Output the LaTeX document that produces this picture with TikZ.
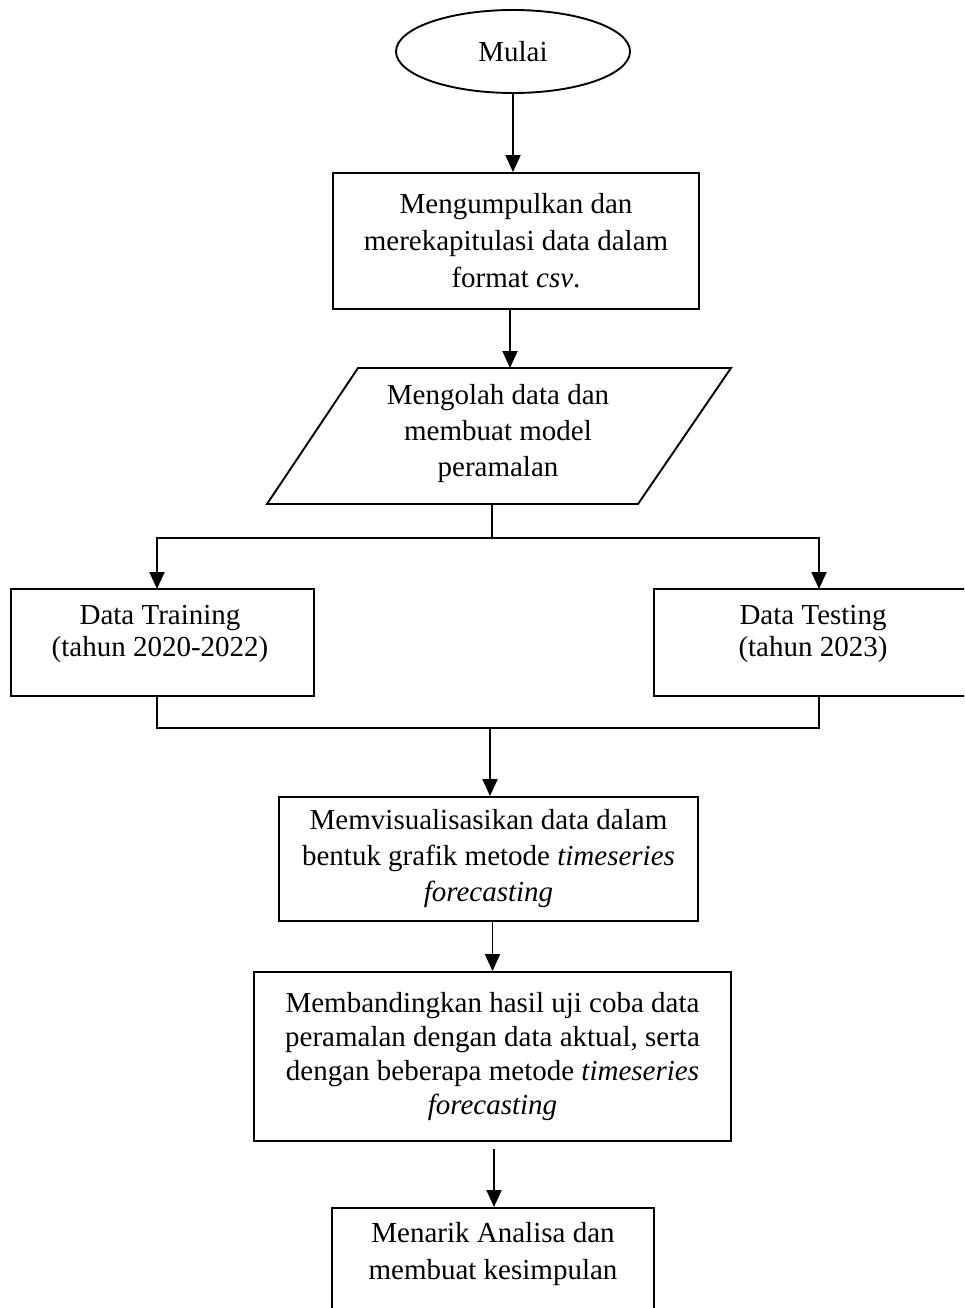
\documentclass[tikz,border=0pt]{standalone}
\usepackage{fontspec}
\setmainfont{Liberation Serif}
\usetikzlibrary{arrows.meta,shapes.geometric}
\begin{document}
\begin{tikzpicture}[x=1pt,y=-1pt,
  line width=1.9pt,
  txt/.style={align=center, inner sep=0pt, font=\fontsize{29}{37}\selectfont},
  box/.style={draw, rectangle, txt},
  arr/.style={-{Triangle[width=15pt,length=17pt]}},
]
\useasboundingbox (0,0) rectangle (964,1308);
\clip (0,0) rectangle (964,1308);

% start
\node[draw, ellipse, txt, minimum width=234pt, minimum height=83pt] (start) at (513,51.5) {Mulai};

% box 1
\node[box, minimum width=366pt, minimum height=136pt] (b1) at (516,241)
  {Mengumpulkan dan\\merekapitulasi data dalam\\format \textit{csv}.};

% parallelogram
\coordinate (pTL) at (358,368);
\coordinate (pTR) at (731,368);
\coordinate (pBR) at (638,504);
\coordinate (pBL) at (267,504);
\draw[line join=miter] (pBL) -- (pTL) -- (pTR) -- (pBR) -- cycle;
\node[txt, font=\fontsize{29}{36}\selectfont] (p) at (498,434) {Mengolah data dan\\membuat model\\peramalan};
\coordinate (pIn) at (510,368);
\coordinate (pOut) at (492,504);
\coordinate (split) at (492,538);

% training / testing
\node[draw, rectangle, minimum width=303pt, minimum height=107pt, inner sep=0pt] (train) at (162.5,642.5) {};
\node[txt, font=\fontsize{29}{32}\selectfont] (trainT) at (160,634) {Data Training\\(tahun 2020-2022)};
\node[draw, rectangle, minimum width=318pt, minimum height=107pt, inner sep=0pt] (test) at (813,642.5) {};
\node[txt, font=\fontsize{29}{32}\selectfont] (testT) at (813,634) {Data Testing\\(tahun 2023)};
\coordinate (tIn) at (157,589);
\coordinate (sIn) at (819,589);
\coordinate (tOut) at (157,696);
\coordinate (sOut) at (819,696);
\coordinate (join) at (490,728);

% visualisation
\node[box, font=\fontsize{29}{36}\selectfont, minimum width=419pt, minimum height=124pt] (m) at (488.5,859)
  {Memvisualisasikan data dalam\\bentuk grafik metode \textit{timeseries}\\\textit{forecasting}};

% compare
\node[box, font=\fontsize{29}{34}\selectfont, minimum width=477pt, minimum height=169pt] (b5) at (492.5,1056.5)
  {Membandingkan hasil uji coba data\\peramalan dengan data aktual, serta\\dengan beberapa metode \textit{timeseries}\\\textit{forecasting}};
\coordinate (gap) at (494,1149);

% conclusion
\node[draw, rectangle, minimum width=322pt, minimum height=150pt, inner sep=0pt, anchor=north] (b6) at (493,1207) {};
\node[txt] (b6T) at (493,1254) {Menarik Analisa dan\\membuat kesimpulan};

% connectors
\draw[arr] (start.south) -- (start.south |- b1.north);
\draw[arr] (b1.south -| pIn) -- (pIn);
\draw (pOut) -- (split);
\draw[arr] (split) -| (tIn);
\draw[arr] (split) -| (sIn);
\draw (tOut) |- (join);
\draw (sOut) |- (join);
\draw[arr] (join) -- (join |- m.north);
\draw[arr] (b5.north |- m.south) -- (b5.north);
\draw[arr] (gap) -- (gap |- b6.north);
\end{tikzpicture}
\end{document}
